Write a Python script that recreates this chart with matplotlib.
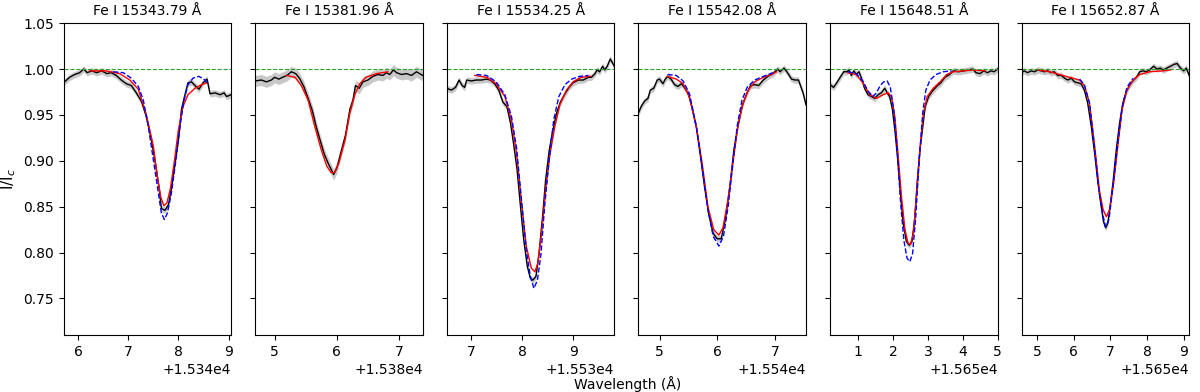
import numpy as np
import matplotlib
matplotlib.use("Agg")
import matplotlib.pyplot as plt
from matplotlib.ticker import MultipleLocator

# line labels and wavelength offsets (x values below are relative to these)
titles = ["Fe I 15343.79 Å", "Fe I 15381.96 Å", "Fe I 15534.25 Å",
          "Fe I 15542.08 Å", "Fe I 15648.51 Å", "Fe I 15652.87 Å"]
bases = [15340, 15380, 15530, 15540, 15650, 15650]

# observed spectra
obs1_x = [5.71, 5.77, 5.83, 5.93, 6.03, 6.11, 6.18, 6.27, 6.37, 6.47, 6.57, 6.66, 6.76, 6.86, 6.96, 7.06,
          7.16, 7.26, 7.36, 7.46, 7.55, 7.62, 7.66, 7.73, 7.80, 7.86, 7.93, 8.00, 8.06, 8.13, 8.19, 8.26,
          8.33, 8.41, 8.49, 8.57, 8.63, 8.73, 8.83, 8.91, 8.96, 9.05]
obs1_y = [0.985, 0.988, 0.991, 0.994, 0.996, 1.000, 0.996, 0.998, 0.996, 0.998, 0.995, 0.996, 0.993, 0.988,
          0.984, 0.982, 0.974, 0.965, 0.948, 0.923, 0.894, 0.868, 0.848, 0.846, 0.852, 0.870, 0.897, 0.923,
          0.956, 0.972, 0.985, 0.986, 0.982, 0.978, 0.985, 0.989, 0.973, 0.974, 0.972, 0.974, 0.970, 0.972]
obs2_x = [4.69, 4.79, 4.87, 4.95, 5.00, 5.07, 5.13, 5.20, 5.27, 5.34, 5.40, 5.47, 5.54, 5.61, 5.67, 5.73,
          5.80, 5.87, 5.95, 6.00, 6.07, 6.14, 6.21, 6.26, 6.30, 6.36, 6.42, 6.50, 6.58, 6.66, 6.74, 6.80,
          6.85, 6.91, 6.96, 7.04, 7.12, 7.20, 7.28, 7.38]
obs2_y = [0.987, 0.988, 0.986, 0.988, 0.991, 0.989, 0.991, 0.993, 0.997, 0.995, 0.990, 0.981, 0.968, 0.954,
          0.937, 0.923, 0.907, 0.896, 0.885, 0.892, 0.910, 0.928, 0.956, 0.966, 0.982, 0.979, 0.986, 0.988,
          0.992, 0.994, 0.993, 0.996, 0.994, 0.999, 0.996, 0.994, 0.995, 0.993, 0.997, 0.993]
obs3_x = [6.52, 6.61, 6.69, 6.76, 6.82, 6.87, 6.91, 7.00, 7.10, 7.20, 7.30, 7.37, 7.46, 7.54, 7.62, 7.70,
          7.77, 7.83, 7.90, 7.96, 8.03, 8.10, 8.16, 8.21, 8.27, 8.33, 8.40, 8.46, 8.53, 8.59, 8.67, 8.75,
          8.84, 8.92, 9.00, 9.10, 9.20, 9.30, 9.36, 9.43, 9.47, 9.52, 9.58, 9.62, 9.67, 9.73, 9.81]
obs3_y = [0.979, 0.977, 0.980, 0.988, 0.982, 0.980, 0.988, 0.987, 0.988, 0.988, 0.989, 0.988, 0.984, 0.977,
          0.964, 0.959, 0.941, 0.919, 0.890, 0.854, 0.814, 0.785, 0.772, 0.770, 0.774, 0.799, 0.839, 0.879,
          0.911, 0.930, 0.951, 0.964, 0.973, 0.980, 0.985, 0.988, 0.988, 0.991, 0.991, 0.995, 0.999, 0.997,
          1.003, 0.999, 1.003, 1.011, 1.003]
obs4_x = [4.635, 4.68, 4.74, 4.80, 4.84, 4.90, 4.96, 5.00, 5.06, 5.10, 5.14, 5.20, 5.26, 5.32, 5.38, 5.43,
          5.50, 5.56, 5.64, 5.71, 5.78, 5.85, 5.93, 6.00, 6.07, 6.14, 6.22, 6.29, 6.36, 6.43, 6.51, 6.58,
          6.65, 6.72, 6.80, 6.88, 6.97, 7.05, 7.09, 7.16, 7.22, 7.29, 7.35, 7.41, 7.45, 7.49, 7.54]
obs4_y = [0.952, 0.959, 0.965, 0.968, 0.977, 0.979, 0.988, 0.989, 0.984, 0.989, 0.992, 0.989, 0.983, 0.981,
          0.984, 0.980, 0.973, 0.959, 0.936, 0.905, 0.872, 0.843, 0.821, 0.815, 0.815, 0.836, 0.872, 0.912,
          0.938, 0.959, 0.973, 0.982, 0.983, 0.982, 0.988, 0.992, 0.995, 1.000, 0.997, 1.001, 0.996, 0.989,
          0.988, 0.988, 0.981, 0.974, 0.961]
obs5_x = [0.19, 0.29, 0.38, 0.48, 0.58, 0.67, 0.73, 0.80, 0.87, 0.94, 1.02, 1.09, 1.18, 1.28, 1.38, 1.47,
          1.57, 1.66, 1.76, 1.83, 1.90, 1.98, 2.06, 2.13, 2.21, 2.29, 2.38, 2.46, 2.54, 2.62, 2.69, 2.77,
          2.85, 2.92, 3.02, 3.13, 3.25, 3.37, 3.49, 3.62, 3.73, 3.88, 4.02, 4.16, 4.29, 4.38, 4.50, 4.60,
          4.71, 4.81, 4.90, 5.00]
obs5_y = [0.983, 0.980, 0.985, 0.991, 0.997, 0.997, 0.999, 0.993, 0.998, 0.994, 0.997, 0.990, 0.979, 0.972,
          0.970, 0.968, 0.972, 0.974, 0.979, 0.974, 0.970, 0.956, 0.930, 0.902, 0.865, 0.832, 0.812, 0.808,
          0.812, 0.836, 0.876, 0.912, 0.937, 0.959, 0.970, 0.976, 0.981, 0.985, 0.991, 0.994, 0.998, 0.997,
          0.998, 0.999, 1.000, 0.996, 0.995, 0.998, 0.996, 0.998, 0.997, 1.000]
obs6_x = [4.58, 4.65, 4.74, 4.84, 4.93, 5.02, 5.11, 5.20, 5.29, 5.38, 5.47, 5.56, 5.66, 5.75, 5.84, 5.93,
          6.02, 6.11, 6.20, 6.29, 6.38, 6.48, 6.57, 6.66, 6.75, 6.81, 6.87, 6.93, 6.99, 7.07, 7.16, 7.25,
          7.34, 7.43, 7.52, 7.61, 7.71, 7.80, 7.89, 7.98, 8.07, 8.18, 8.27, 8.36, 8.45, 8.54, 8.64, 8.73,
          8.82, 8.91, 9.00, 9.07, 9.15]
obs6_y = [0.996, 0.998, 0.996, 0.998, 0.997, 0.999, 0.998, 0.997, 0.998, 0.996, 0.997, 0.993, 0.993, 0.990,
          0.988, 0.990, 0.986, 0.985, 0.984, 0.977, 0.963, 0.937, 0.908, 0.876, 0.850, 0.834, 0.827, 0.832,
          0.850, 0.876, 0.912, 0.941, 0.963, 0.975, 0.982, 0.987, 0.991, 0.997, 0.998, 0.997, 0.999, 1.003,
          1.000, 1.001, 0.999, 1.001, 1.003, 1.005, 1.006, 1.001, 0.998, 1.001, 0.993]
obs_err = [0.0035, 0.006, 0.0035, 0.0035, 0.0035, 0.0035]

# best fit (red)
fit1_x = [6.23, 6.55, 6.83, 7.03, 7.20, 7.36, 7.50, 7.58, 7.65, 7.71, 7.77, 7.84, 7.92, 8.00, 8.09, 8.19,
          8.33, 8.46, 8.56]
fit1_y = [0.998, 0.998, 0.995, 0.988, 0.978, 0.950, 0.916, 0.882, 0.860, 0.851, 0.854, 0.870, 0.900, 0.934,
          0.959, 0.972, 0.979, 0.983, 0.985]
fit2_x = [5.19, 5.33, 5.43, 5.54, 5.64, 5.75, 5.84, 5.91, 5.96, 6.03, 6.13, 6.21, 6.29, 6.37, 6.47, 6.64, 6.82]
fit2_y = [0.993, 0.991, 0.982, 0.966, 0.939, 0.912, 0.894, 0.887, 0.887, 0.897, 0.922, 0.952, 0.972, 0.984,
          0.991, 0.995, 0.997]
fit3_x = [7.07, 7.30, 7.49, 7.66, 7.79, 7.89, 7.98, 8.08, 8.18, 8.25, 8.31, 8.38, 8.46, 8.54, 8.64, 8.74,
          8.87, 9.00, 9.16, 9.33]
fit3_y = [0.993, 0.991, 0.984, 0.970, 0.944, 0.908, 0.858, 0.807, 0.783, 0.779, 0.789, 0.821, 0.868, 0.905,
          0.937, 0.961, 0.977, 0.986, 0.991, 0.992]
fit4_x = [5.14, 5.29, 5.41, 5.52, 5.64, 5.74, 5.84, 5.94, 6.03, 6.10, 6.19, 6.28, 6.36, 6.45, 6.54, 6.65,
          6.80, 6.94, 7.03]
fit4_y = [0.992, 0.989, 0.984, 0.969, 0.937, 0.897, 0.850, 0.825, 0.819, 0.827, 0.858, 0.901, 0.938, 0.963,
          0.977, 0.986, 0.991, 0.994, 0.997]
fit5_x = [0.70, 0.94, 1.13, 1.33, 1.52, 1.71, 1.86, 1.95, 2.05, 2.14, 2.24, 2.34, 2.43, 2.50, 2.58, 2.67,
          2.77, 2.87, 2.98, 3.15, 3.35, 3.54, 3.73, 4.02, 4.31, 4.64]
fit5_y = [0.996, 0.994, 0.985, 0.972, 0.968, 0.972, 0.974, 0.970, 0.948, 0.908, 0.861, 0.825, 0.810, 0.809,
          0.821, 0.861, 0.912, 0.952, 0.970, 0.979, 0.986, 0.994, 0.997, 0.998, 0.999, 0.998]
fit6_x = [5.02, 5.34, 5.61, 5.88, 6.16, 6.29, 6.43, 6.57, 6.70, 6.80, 6.89, 6.98, 7.09, 7.21, 7.32, 7.45,
          7.62, 7.80, 8.07, 8.44, 8.64]
fit6_y = [0.999, 0.997, 0.994, 0.991, 0.988, 0.982, 0.963, 0.916, 0.868, 0.847, 0.839, 0.847, 0.876, 0.919,
          0.956, 0.977, 0.988, 0.994, 0.997, 0.998, 0.999]

# second model (blue dashed), none for panel 2
mod1_x = [6.70, 6.90, 7.06, 7.20, 7.30, 7.40, 7.50, 7.60, 7.66, 7.72, 7.78, 7.86, 7.95, 8.03, 8.11, 8.19,
          8.29, 8.41, 8.53, 8.56]
mod1_y = [0.997, 0.996, 0.990, 0.981, 0.966, 0.937, 0.901, 0.865, 0.843, 0.836, 0.843, 0.865, 0.901, 0.937,
          0.966, 0.983, 0.990, 0.992, 0.988, 0.985]
mod3_x = [7.10, 7.30, 7.49, 7.66, 7.79, 7.89, 7.98, 8.08, 8.16, 8.23, 8.30, 8.37, 8.44, 8.53, 8.62, 8.72,
          8.84, 8.97, 9.13, 9.30]
mod3_y = [0.994, 0.993, 0.986, 0.972, 0.948, 0.914, 0.861, 0.803, 0.774, 0.761, 0.770, 0.799, 0.850, 0.901,
          0.945, 0.970, 0.983, 0.989, 0.992, 0.993]
mod4_x = [5.14, 5.29, 5.41, 5.52, 5.64, 5.74, 5.84, 5.93, 6.03, 6.11, 6.19, 6.28, 6.35, 6.43, 6.52, 6.65,
          6.80, 6.97]
mod4_y = [0.994, 0.993, 0.987, 0.973, 0.937, 0.894, 0.847, 0.818, 0.807, 0.818, 0.850, 0.901, 0.939, 0.966,
          0.980, 0.988, 0.992, 0.996]
mod5_x = [0.70, 0.94, 1.13, 1.28, 1.42, 1.52, 1.63, 1.73, 1.83, 1.92, 2.02, 2.12, 2.21, 2.31, 2.40, 2.48,
          2.56, 2.65, 2.75, 2.85, 2.94, 3.06, 3.23, 3.44, 3.68]
mod5_y = [0.997, 0.995, 0.987, 0.976, 0.970, 0.974, 0.982, 0.986, 0.987, 0.980, 0.955, 0.912, 0.857, 0.813,
          0.794, 0.790, 0.799, 0.839, 0.901, 0.952, 0.977, 0.988, 0.994, 0.997, 0.998]
mod6_x = [6.16, 6.29, 6.43, 6.57, 6.70, 6.80, 6.87, 6.96, 7.07, 7.21, 7.32, 7.45, 7.62]
mod6_y = [0.989, 0.983, 0.963, 0.914, 0.864, 0.840, 0.828, 0.836, 0.872, 0.921, 0.958, 0.980, 0.990]

obs = [(obs1_x, obs1_y), (obs2_x, obs2_y), (obs3_x, obs3_y),
       (obs4_x, obs4_y), (obs5_x, obs5_y), (obs6_x, obs6_y)]
fits = [(fit1_x, fit1_y), (fit2_x, fit2_y), (fit3_x, fit3_y),
        (fit4_x, fit4_y), (fit5_x, fit5_y), (fit6_x, fit6_y)]
mods = [(mod1_x, mod1_y), None, (mod3_x, mod3_y),
        (mod4_x, mod4_y), (mod5_x, mod5_y), (mod6_x, mod6_y)]

fig, axes = plt.subplots(1, 6, figsize=(12, 3.92), dpi=100, sharey=True)
fig.subplots_adjust(left=0.053, right=0.991, top=0.941, bottom=0.145, wspace=0.144)

for i, ax in enumerate(axes):
    b = bases[i]
    ox = b + np.array(obs[i][0])
    oy = np.array(obs[i][1])
    ax.fill_between(ox, oy - obs_err[i], oy + obs_err[i], color="#c8c8c8", lw=0)
    ax.plot(ox, oy, color="black", lw=1.0)
    ax.plot(b + np.array(fits[i][0]), fits[i][1], color="red", lw=1.0)
    if mods[i] is not None:
        ax.plot(b + np.array(mods[i][0]), mods[i][1], color="blue", ls="--", lw=1.0)
    ax.axhline(1.0, color="#2ca02c", ls="--", lw=0.8)
    ax.set_xlim(ox[0], ox[-1])
    ax.xaxis.set_major_locator(MultipleLocator(1))
    ax.set_title(titles[i], fontsize=10)

axes[0].set_ylim(0.71, 1.05)
axes[0].set_ylabel("I/I$_c$", fontsize=11)
fig.text(0.523, 0.001, "Wavelength (Å)", ha="center", va="bottom", fontsize=10)

fig.savefig("out.png", dpi=100)
